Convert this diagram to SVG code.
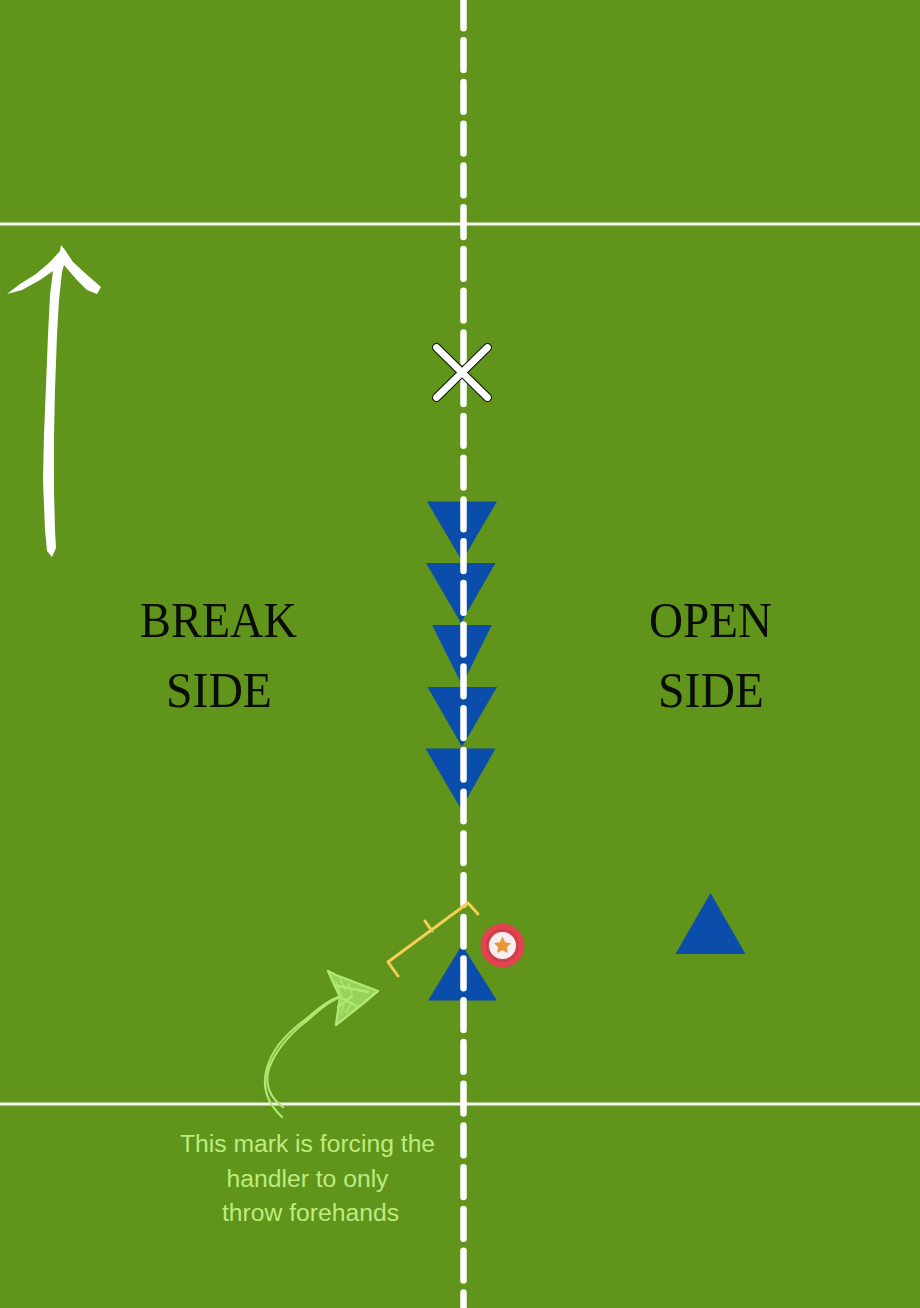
<svg xmlns="http://www.w3.org/2000/svg" width="920" height="1308" viewBox="0 0 920 1308">
<style>
.blue{fill:#0b4dab}
.field{stroke:#f4f8ee;stroke-width:2.8;fill:none}
.head{font-family:"Liberation Serif",serif;font-size:50px;fill:#0a0d05;text-anchor:start}
.note{font-family:"Liberation Sans",Arial,sans-serif;font-size:24.700px;fill:#bdec80;text-anchor:middle}
.mark{stroke:#f2cf55;stroke-width:3;fill:none;stroke-linecap:round;stroke-linejoin:round}
.sk{stroke:#b0e674;fill:none;stroke-linecap:round;stroke-linejoin:round}
</style>
<rect id="field" width="920" height="1308" fill="#60941b"/>
<g id="field-lines">
<line class="field" x1="0" y1="224" x2="920" y2="224"/>
<line class="field" x1="0" y1="1104" x2="920" y2="1104"/>
</g>
<g id="direction-arrow">
<path fill="#ffffff" d="M61 245 L65 250 L73 262 L86 274 L101 287 L97 294 L87 290 L76 279 L64 265 L62 272 L59 300 L57 335 L55 390 L54 435 L54 490 L55 530 L56 548 L52 557 L47 551 L45 530 L43 480 L44 435 L46 385 L48 335 L50 295 L53 271 L40 280 L22 290 L7 294 L20 284 L36 274 L50 262 L60 251 Z"/>
</g>
<g id="defenders">
<polygon id="d1" class="blue" points="427,501.500 497,501.500 462,561"/>
<polygon id="d2" class="blue" points="426,563 495.500,563 461,623"/>
<polygon id="d3" class="blue" points="432,625 492,625 462,685"/>
<polygon id="d4" class="blue" points="427.500,687 497,687 462,747"/>
<polygon id="d5" class="blue" points="425.500,748.500 495.500,748.500 461,809"/>
</g>
<g id="handler-triangle"><polygon class="blue" points="462,945 497,1000.500 428,1000.500"/></g>
<g id="open-triangle"><polygon class="blue" points="710.500,893 745.500,954 675.500,954"/></g>
<g id="connectors">
<line x1="463.500" y1="-1.400" x2="463.500" y2="1310" stroke="#ffffff" stroke-width="6.500" stroke-linecap="round" stroke-dasharray="29.700 12.040"/>
</g>
<g id="cross">
<path d="M436.500 347.500 L487.500 397.500 M487.500 347.500 L436.500 397.500" stroke="#10180a" stroke-width="9" stroke-linecap="round"/>
<path d="M436.500 347.500 L487.500 397.500 M487.500 347.500 L436.500 397.500" stroke="#ffffff" stroke-width="6.800" stroke-linecap="round"/>
</g>
<g id="mark">
<path class="mark" d="M388 962 L468 903 L478 914 M388 962 L398 976 M432 931 L425 921"/>
</g>
<g id="disc">
<circle cx="502.500" cy="945.500" r="22" fill="#e1444f"/>
<circle cx="502.500" cy="945.500" r="15.500" fill="none" stroke="#c23d49" stroke-width="1.500"/>
<circle cx="502.500" cy="945.500" r="13.500" fill="#f3eff0"/>
<polygon fill="#e8963a" points="502.500,936.500 505.200,942.300 511,943 506.800,947.200 508,953 502.500,950.200 497,953 498.200,947.200 494,943 499.800,942.300"/>
</g>
<g id="sketch-arrow">
<path d="M328 971 L336 975 L378 991 L358 1008 L336 1025 L340 997 Z" fill="#98d359"/>
<path d="M328 971 L336 975 L378 991 L360 1006 L336 1025 L340 997 Z M334 985 L368 992 M340 997 L358 1007 M338 1007 L352 996" class="sk" stroke-width="2.400"/>
<path d="M340 978 L345 990 M336 982 L342 996 M348 984 L352 993 M345 1000 L341 1014 M352 1002 L346 1012" class="sk" stroke-width="1.500"/>
<path d="M338 997 C320 1004 312 1016 302 1022 C285 1035 272 1050 267 1068 C262 1085 266 1102 282 1117" class="sk" stroke-width="2.200"/>
<path d="M338 998 C320 1006 312 1018 304 1023 C288 1036 276 1050 269 1068 C265 1082 268 1096 283 1107" class="sk" stroke-width="2.200"/>
</g>
<g id="labels">
<text class="head" x="140" y="637" textLength="157" lengthAdjust="spacingAndGlyphs">BREAK</text>
<text class="head" x="166" y="707" textLength="106" lengthAdjust="spacingAndGlyphs">SIDE</text>
<text class="head" x="649" y="637" textLength="123" lengthAdjust="spacingAndGlyphs">OPEN</text>
<text class="head" x="658" y="707" textLength="106" lengthAdjust="spacingAndGlyphs">SIDE</text>
<text class="note" x="307.500" y="1152">This mark is forcing the</text>
<text class="note" x="307.500" y="1187">handler to only</text>
<text class="note" x="310.500" y="1221">throw forehands</text>
</g>
</svg>
